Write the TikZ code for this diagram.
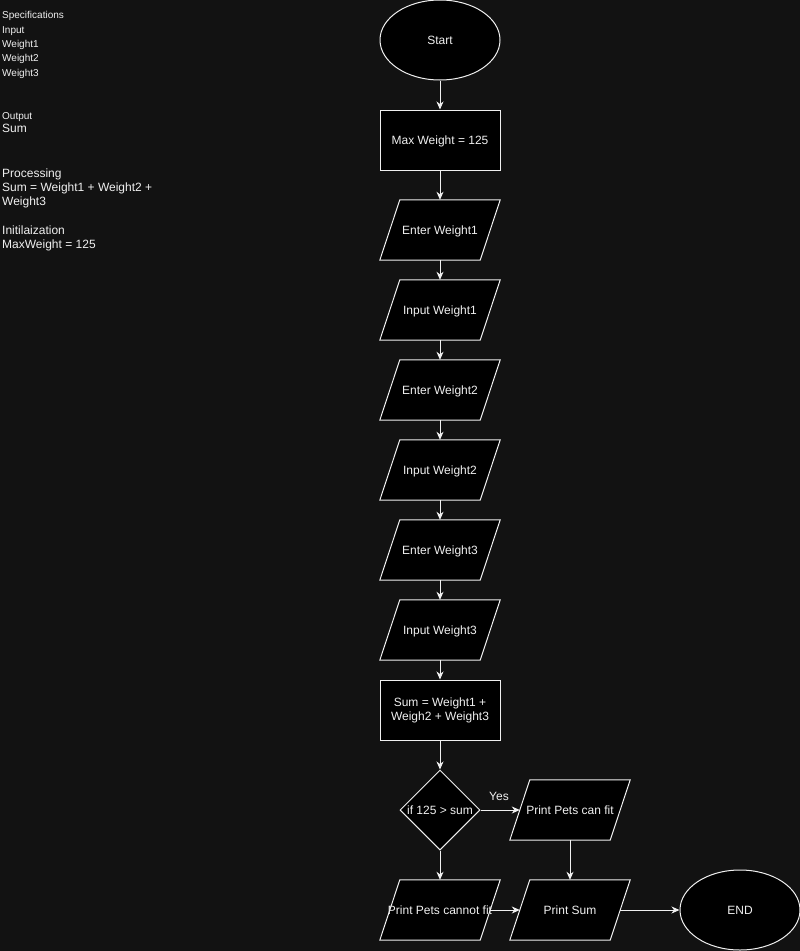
\documentclass[tikz,border=0pt]{standalone}
\usepackage{fontspec}
\setmainfont{Liberation Sans}
\usetikzlibrary{shapes.geometric,arrows.meta,backgrounds}
\definecolor{canvas}{RGB}{18,18,18}
\definecolor{ink}{RGB}{240,240,240}
% slanted input/output box drawn behind a named rectangular node
\newcommand\iobox[1]{%
  \filldraw[draw=ink, fill=black, line width=1pt, line join=miter]
    ([xshift=20pt]#1.north west) -- (#1.north east) --
    ([xshift=-20pt]#1.south east) -- (#1.south west) -- cycle;}
\begin{document}
\begin{tikzpicture}[x=1pt,y=-1pt,
  every node/.style={text=ink, font=\fontsize{12}{14}\selectfont},
  oneline/.style={text height=9.6pt, text depth=0pt},
  box/.style={draw=ink, fill=black, line width=1pt, minimum width=120pt,
    minimum height=60pt, inner sep=0pt},
  io/.style={minimum width=120pt, minimum height=60pt, inner sep=0pt, oneline},
  term/.style={ellipse, draw=ink, fill=black, line width=1pt, minimum width=120pt,
    minimum height=80pt, inner sep=0pt, oneline},
  decision/.style={diamond, draw=ink, fill=black, line width=1pt, minimum width=80pt,
    minimum height=80pt, inner sep=0pt, aspect=1, oneline},
  flow/.style={draw=ink, line width=1pt, -{Stealth[length=8pt,width=7pt,inset=2.5pt]}},
  note/.style={anchor=base west, inner sep=0pt},
  small/.style={font=\fontsize{10}{12}\selectfont},
]
\useasboundingbox (0,0) rectangle (800,951);

% specification notes
\node[note, small] (spec)   at (2,18.9)  {Specifications};
\node[note, small] (inhead) at (2,33.9)  {Input};
\node[note, small] (inw1)   at (2,47.2)  {Weight1};
\node[note, small] (inw2)   at (2,61.5)  {Weight2};
\node[note, small] (inw3)   at (2,76.2)  {Weight3};
\node[note, small] (outhead) at (2,119.5) {Output};
\node[note] (outsum)  at (2,132.6) {Sum};
\node[note] (prochead) at (2,177)   {Processing};
\node[note] (proc1)   at (2,191)   {Sum = Weight1 + Weight2 +};
\node[note] (proc2)   at (2,205.3) {Weight3};
\node[note] (inithead) at (2,234.3) {Initilaization};
\node[note] (init1)   at (2,248.6) {MaxWeight = 125};

% flowchart
\node[term] (start) at (440,40) {Start};
\node[box, oneline] (maxw) at (440,140) {Max Weight = 125};
\node[io] (enter1) at (440,230) {Enter Weight1};
\node[io] (input1) at (440,310) {Input Weight1};
\node[io] (enter2) at (440,390) {Enter Weight2};
\node[io] (input2) at (440,470) {Input Weight2};
\node[io] (enter3) at (440,550) {Enter Weight3};
\node[io] (input3) at (440,630) {Input Weight3};
\node[box, align=center] (sum) at (440,710) {Sum = Weight1 +\\Weigh2 + Weight3};
\node[decision] (check) at (440,810) {if 125 > sum};
\node[io] (canfit) at (570,810) {Print Pets can fit};
\node[io] (cannot) at (440,910) {Print Pets cannot fit};
\node[io] (printsum) at (570,910) {Print Sum};
\node[term] (finish) at (740,910) {END};
\node[inner sep=0pt, oneline] (yes) at (499,796) {Yes};

\begin{pgfonlayer}{background}
  \fill[canvas] (0,0) rectangle (800,951);
  \iobox{enter1}
  \iobox{input1}
  \iobox{enter2}
  \iobox{input2}
  \iobox{enter3}
  \iobox{input3}
  \iobox{canfit}
  \iobox{cannot}
  \iobox{printsum}
\end{pgfonlayer}

\draw[flow] (start) -- (maxw);
\draw[flow] (maxw) -- (enter1);
\draw[flow] (enter1) -- (input1);
\draw[flow] (input1) -- (enter2);
\draw[flow] (enter2) -- (input2);
\draw[flow] (input2) -- (enter3);
\draw[flow] (enter3) -- (input3);
\draw[flow] (input3) -- (sum);
\draw[flow] (sum) -- (check);
\draw[flow] (check.east) -- ([xshift=10pt]canfit.west);
\draw[flow] (check) -- (cannot);
\draw[flow] (canfit) -- (printsum);
\draw[flow] ([xshift=-10pt]cannot.east) -- ([xshift=10pt]printsum.west);
\draw[flow] ([xshift=-10pt]printsum.east) -- (finish);
\end{tikzpicture}
\end{document}
